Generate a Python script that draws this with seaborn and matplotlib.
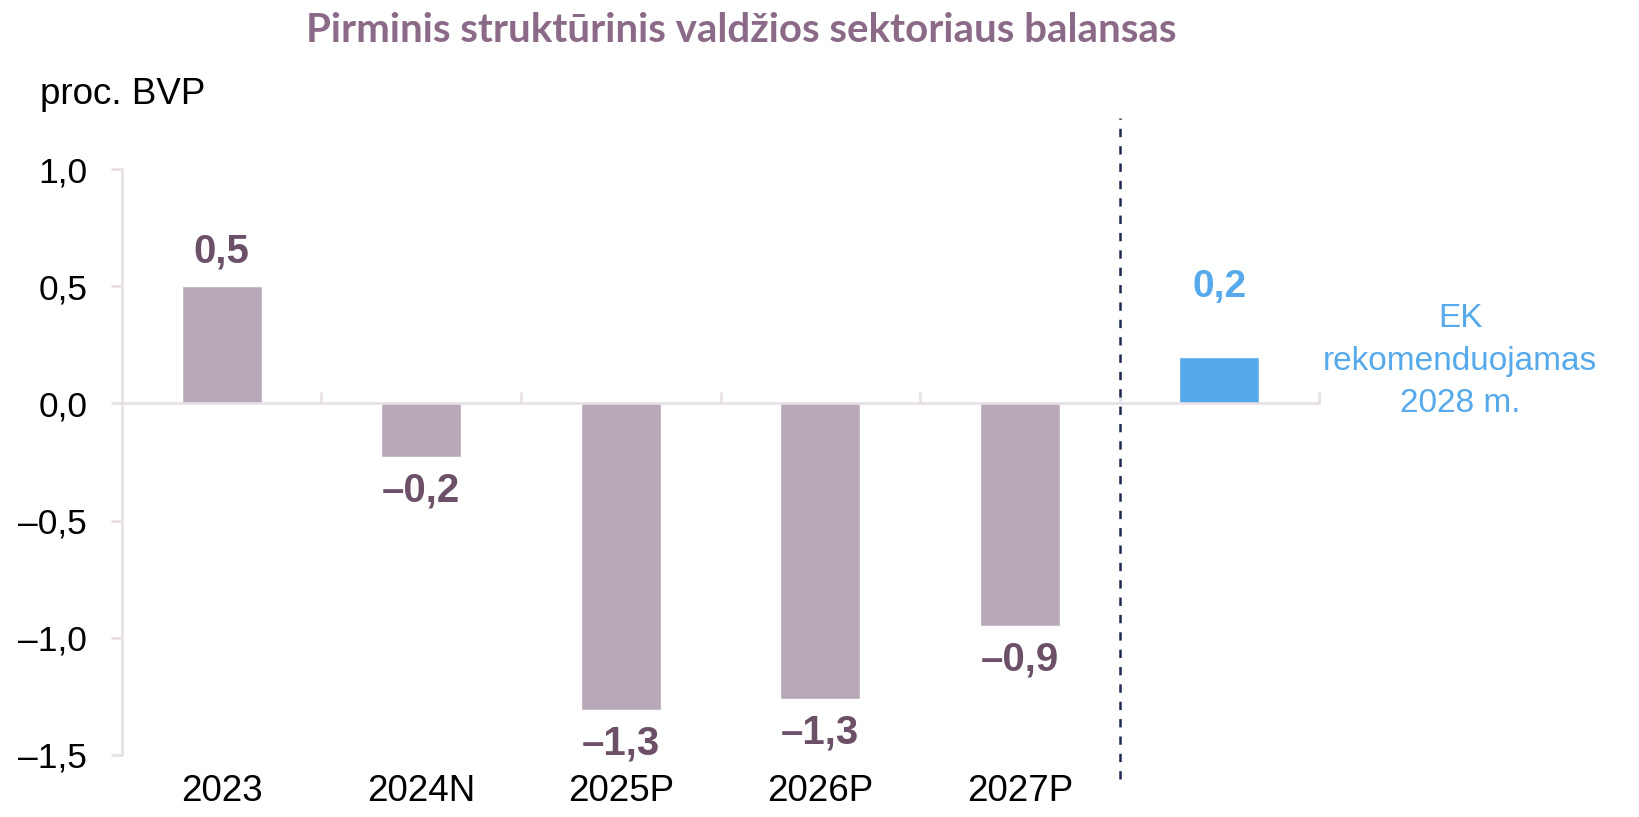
import matplotlib
matplotlib.use("Agg")
import matplotlib.pyplot as plt
import matplotlib.ticker as mticker
import seaborn as sns
import pandas as pd

# --- data ---
categories = ["2023", "2024N", "2025P", "2026P", "2027P", "2028 EK"]
tick_labels = ["2023", "2024N", "2025P", "2026P", "2027P", ""]
values = [0.50, -0.23, -1.31, -1.26, -0.95, 0.20]
value_labels = ["0,5", "–0,2", "–1,3", "–1,3", "–0,9", "0,2"]
groups = ["balansas", "balansas", "balansas", "balansas", "balansas", "EK"]
y_ticks = [-1.5, -1.0, -0.5, 0.0, 0.5, 1.0]

TITLE = "Pirminis struktūrinis valdžios sektoriaus balansas"
Y_UNIT = "proc. BVP"
EK_NOTE = "EK\nrekomenduojamas\n2028 m."

BAR_GREY = "#b9a8b8"
BAR_BLUE = "#56a9ea"
LABEL_GREY = "#6b5068"
TITLE_COL = "#8b6a88"
SPINE_COL = "#e6dfe5"
DASH_COL = "#1c2951"

sns.set_theme(style="white")
plt.rcParams["font.family"] = ["Liberation Sans", "DejaVu Sans"]
plt.rcParams["lines.scale_dashes"] = False

df = pd.DataFrame({"cat": categories, "val": values, "grp": groups})

fig = plt.figure(figsize=(16.39, 8.17), dpi=100)
ax = fig.add_axes([0.0744, 0.0759, 0.7304, 0.7172])

sns.barplot(data=df, x="cat", y="val", hue="grp", order=categories,
            palette={"balansas": BAR_GREY, "EK": BAR_BLUE},
            width=0.4, saturation=1, legend=False, ax=ax)

ax.set_xlim(-0.5, len(categories) - 0.5)
ax.set_ylim(-1.5, 1.0)
ax.set_xlabel("")
ax.set_ylabel("")

# spines
for side in ["top", "right"]:
    ax.spines[side].set_visible(False)
ax.spines["left"].set_color(SPINE_COL)
ax.spines["left"].set_linewidth(1.8)
ax.spines["bottom"].set_position(("data", 0))
ax.spines["bottom"].set_color(SPINE_COL)
ax.spines["bottom"].set_linewidth(1.8)

# y axis
ax.set_yticks(y_ticks)
ax.yaxis.set_major_formatter(mticker.FuncFormatter(
    lambda v, p: f"{v:.1f}".replace(".", ",").replace("-", "–")))
ax.tick_params(axis="y", left=True, length=8, width=1.8, color=SPINE_COL,
               pad=17, labelsize=25.5, labelcolor="black")

# x axis at zero: only boundary ticks pointing up
ax.set_xticks(range(len(categories)))
ax.tick_params(axis="x", which="major", length=0, labelbottom=False)
ax.xaxis.set_minor_locator(mticker.FixedLocator(
    [i + 0.5 for i in range(len(categories))]))
ax.tick_params(axis="x", which="minor", bottom=True, direction="in",
               length=8, width=1.8, color=SPINE_COL)

# category labels at the bottom
sec = ax.secondary_xaxis("bottom")
sec.set_xticks(range(len(categories)), labels=tick_labels)
sec.tick_params(length=0, pad=14, labelsize=26.5, labelcolor="black")
sec.spines["bottom"].set_visible(False)

# value labels
for i, (v, lab, g) in enumerate(zip(values, value_labels, groups)):
    if g == "EK":
        off, col, fs = 50, BAR_BLUE, 28
    elif v >= 0:
        off, col, fs = 25, LABEL_GREY, 29
    else:
        off, col, fs = -24, LABEL_GREY, 29
    ax.annotate(lab, (i, v), xytext=(0, off), textcoords="offset points",
                ha="center", va="center", fontsize=fs, fontweight="bold",
                color=col)

# separator before the EK bar
ax.axvline(4.5, ymin=-0.041, ymax=1.087, clip_on=False, color=DASH_COL,
           lw=1.8, linestyle=(0, (6, 6.5)))

fig.text(0.452, 0.949, TITLE, ha="center", va="baseline", fontsize=29,
         fontweight="bold", color=TITLE_COL, family=["Lato", "DejaVu Sans"])
fig.text(40 / 1639, 0.873, Y_UNIT, ha="left", va="baseline", fontsize=26.5,
         color="black")
fig.text(0.891, 0.558, EK_NOTE, ha="center", va="center", fontsize=24,
         color=BAR_BLUE, linespacing=1.47, multialignment="center")

fig.savefig("out.png", dpi=100, facecolor="white")
